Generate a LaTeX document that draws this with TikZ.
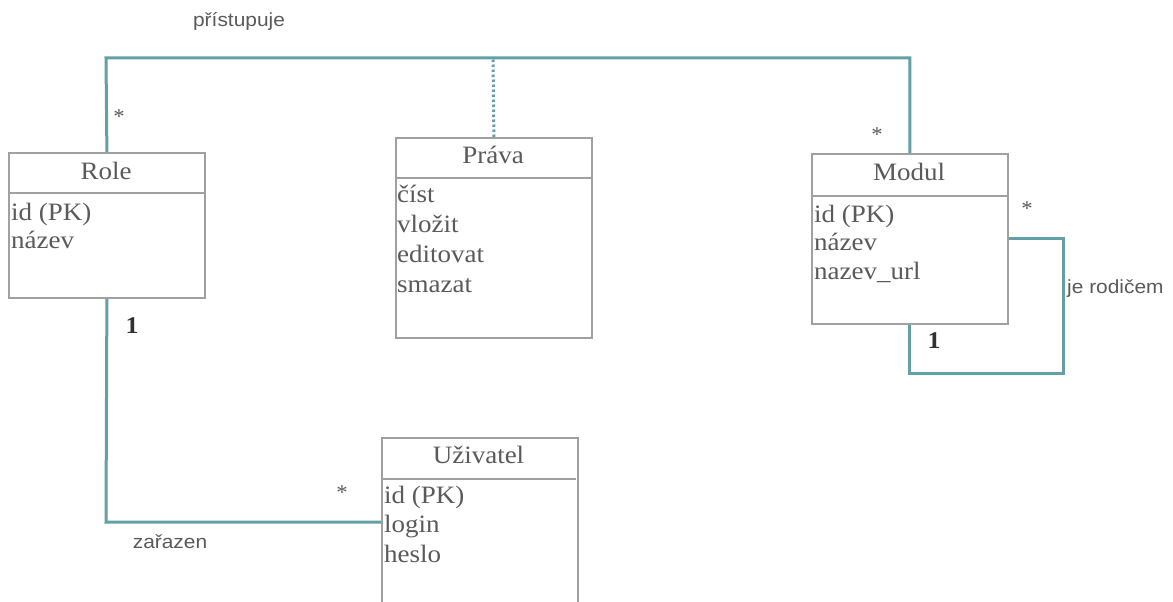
\documentclass[tikz,border=0pt]{standalone}
\usepackage{fontspec}
\setmainfont[FakeStretch=1.08]{Liberation Serif}
\newfontfamily\lblfont[FakeStretch=1.1]{Liberation Sans}
\definecolor{linkteal}{RGB}{98,160,165}
\definecolor{boxgray}{RGB}{160,160,160}
\definecolor{txtgray}{RGB}{90,90,90}
\definecolor{darktxt}{RGB}{50,50,50}
\begin{document}
\begin{tikzpicture}[x=1pt,y=-1pt,
  clsbox/.style={draw=boxgray,line width=1.8pt,anchor=north west,inner sep=0pt,minimum width=196pt},
  divline/.style={draw=boxgray,line width=2.4pt},
  ttl/.style={font=\fontsize{25}{25}\selectfont,text=txtgray,anchor=base,inner sep=0pt},
  attr/.style={font=\fontsize{25}{25}\selectfont,text=txtgray,anchor=base west,inner sep=0pt},
  lbl/.style={font=\lblfont\fontsize{19}{19}\selectfont,text=txtgray,anchor=base,inner sep=0pt},
  mult/.style={font=\fontsize{21}{21}\selectfont,text=txtgray,anchor=base,inner sep=0pt},
  one/.style={font=\bfseries\fontsize{24}{24}\selectfont,text=darktxt,anchor=base,inner sep=0pt},
  conn/.style={draw=linkteal,line width=3pt},
  dotconn/.style={draw=linkteal,line width=3pt,dash pattern=on 2.5pt off 2.5pt}]
\useasboundingbox (0,0) rectangle (1173,602);
\clip (0,0) rectangle (1173,602);
\fill[white] (0,0) rectangle (1173,602);

% boxes
\node[clsbox,minimum height=145pt] (role) at (8,152) {};
\node[clsbox,minimum height=200pt] (prava) at (395,137) {};
\node[clsbox,minimum height=170pt] (modul) at (811,153) {};
\node[clsbox,minimum height=200pt] (uziv) at (381,437) {};

% dividers
\draw[divline] (8,193) -- (204,193);
\draw[divline] (395,178) -- (591,178);
\draw[divline] (811,196) -- (1007,196);
\draw[divline] (381,479) -- (576,479);

% titles
\node[ttl] (troleT) at (106,179) {Role};
\node[ttl] (tpravaT) at (493,163) {Práva};
\node[ttl] (tmodulT) at (909,180) {Modul};
\node[ttl] (tuzivT) at (478.5,463) {Uživatel};

% attributes
\node[attr] (r1) at (11,220) {id (PK)};
\node[attr] (r2) at (11,248) {název};
\node[attr] (p1) at (397,202) {číst};
\node[attr] (p2) at (397,232) {vložit};
\node[attr] (p3) at (397,262) {editovat};
\node[attr] (p4) at (397,292) {smazat};
\node[attr] (m1) at (814,222) {id (PK)};
\node[attr] (m2) at (814,250) {název};
\node[attr] (m3) at (814,279) {nazev\_url};
\node[attr] (u1) at (384,503) {id (PK)};
\node[attr] (u2) at (384,532) {login};
\node[attr] (u3) at (384,562) {heslo};

% connectors
\coordinate (topL) at (106,58);
\coordinate (dotTop) at (493,58);
\coordinate (loopA) at (1063,238);
\coordinate (loopB) at (1063,373);
\coordinate (zcorner) at (106,522);
\draw[conn] (role.north) -- (topL) -| (modul.north);
\draw[dotconn] (prava.north) -- (dotTop);
\draw[conn] (modul.east |- loopA) -- (loopA) -- (loopB) -| (modul.south);
\draw[conn] (role.south) -- (zcorner) -- (uziv.west |- zcorner);

% labels
\node[lbl] (lp) at (239,27) {přístupuje};
\node[lbl] (lz) at (170,548) {zařazen};
\node[lbl,anchor=base west] (lj) at (1067,293) {je rodičem};
\node[mult] (s1) at (119,123) {*};
\node[mult] (s2) at (877,141) {*};
\node[mult] (s3) at (1027,215) {*};
\node[mult] (s4) at (342,499) {*};
\node[one] (o1) at (132,333) {1};
\node[one] (o2) at (934,348) {1};
\end{tikzpicture}
\end{document}
